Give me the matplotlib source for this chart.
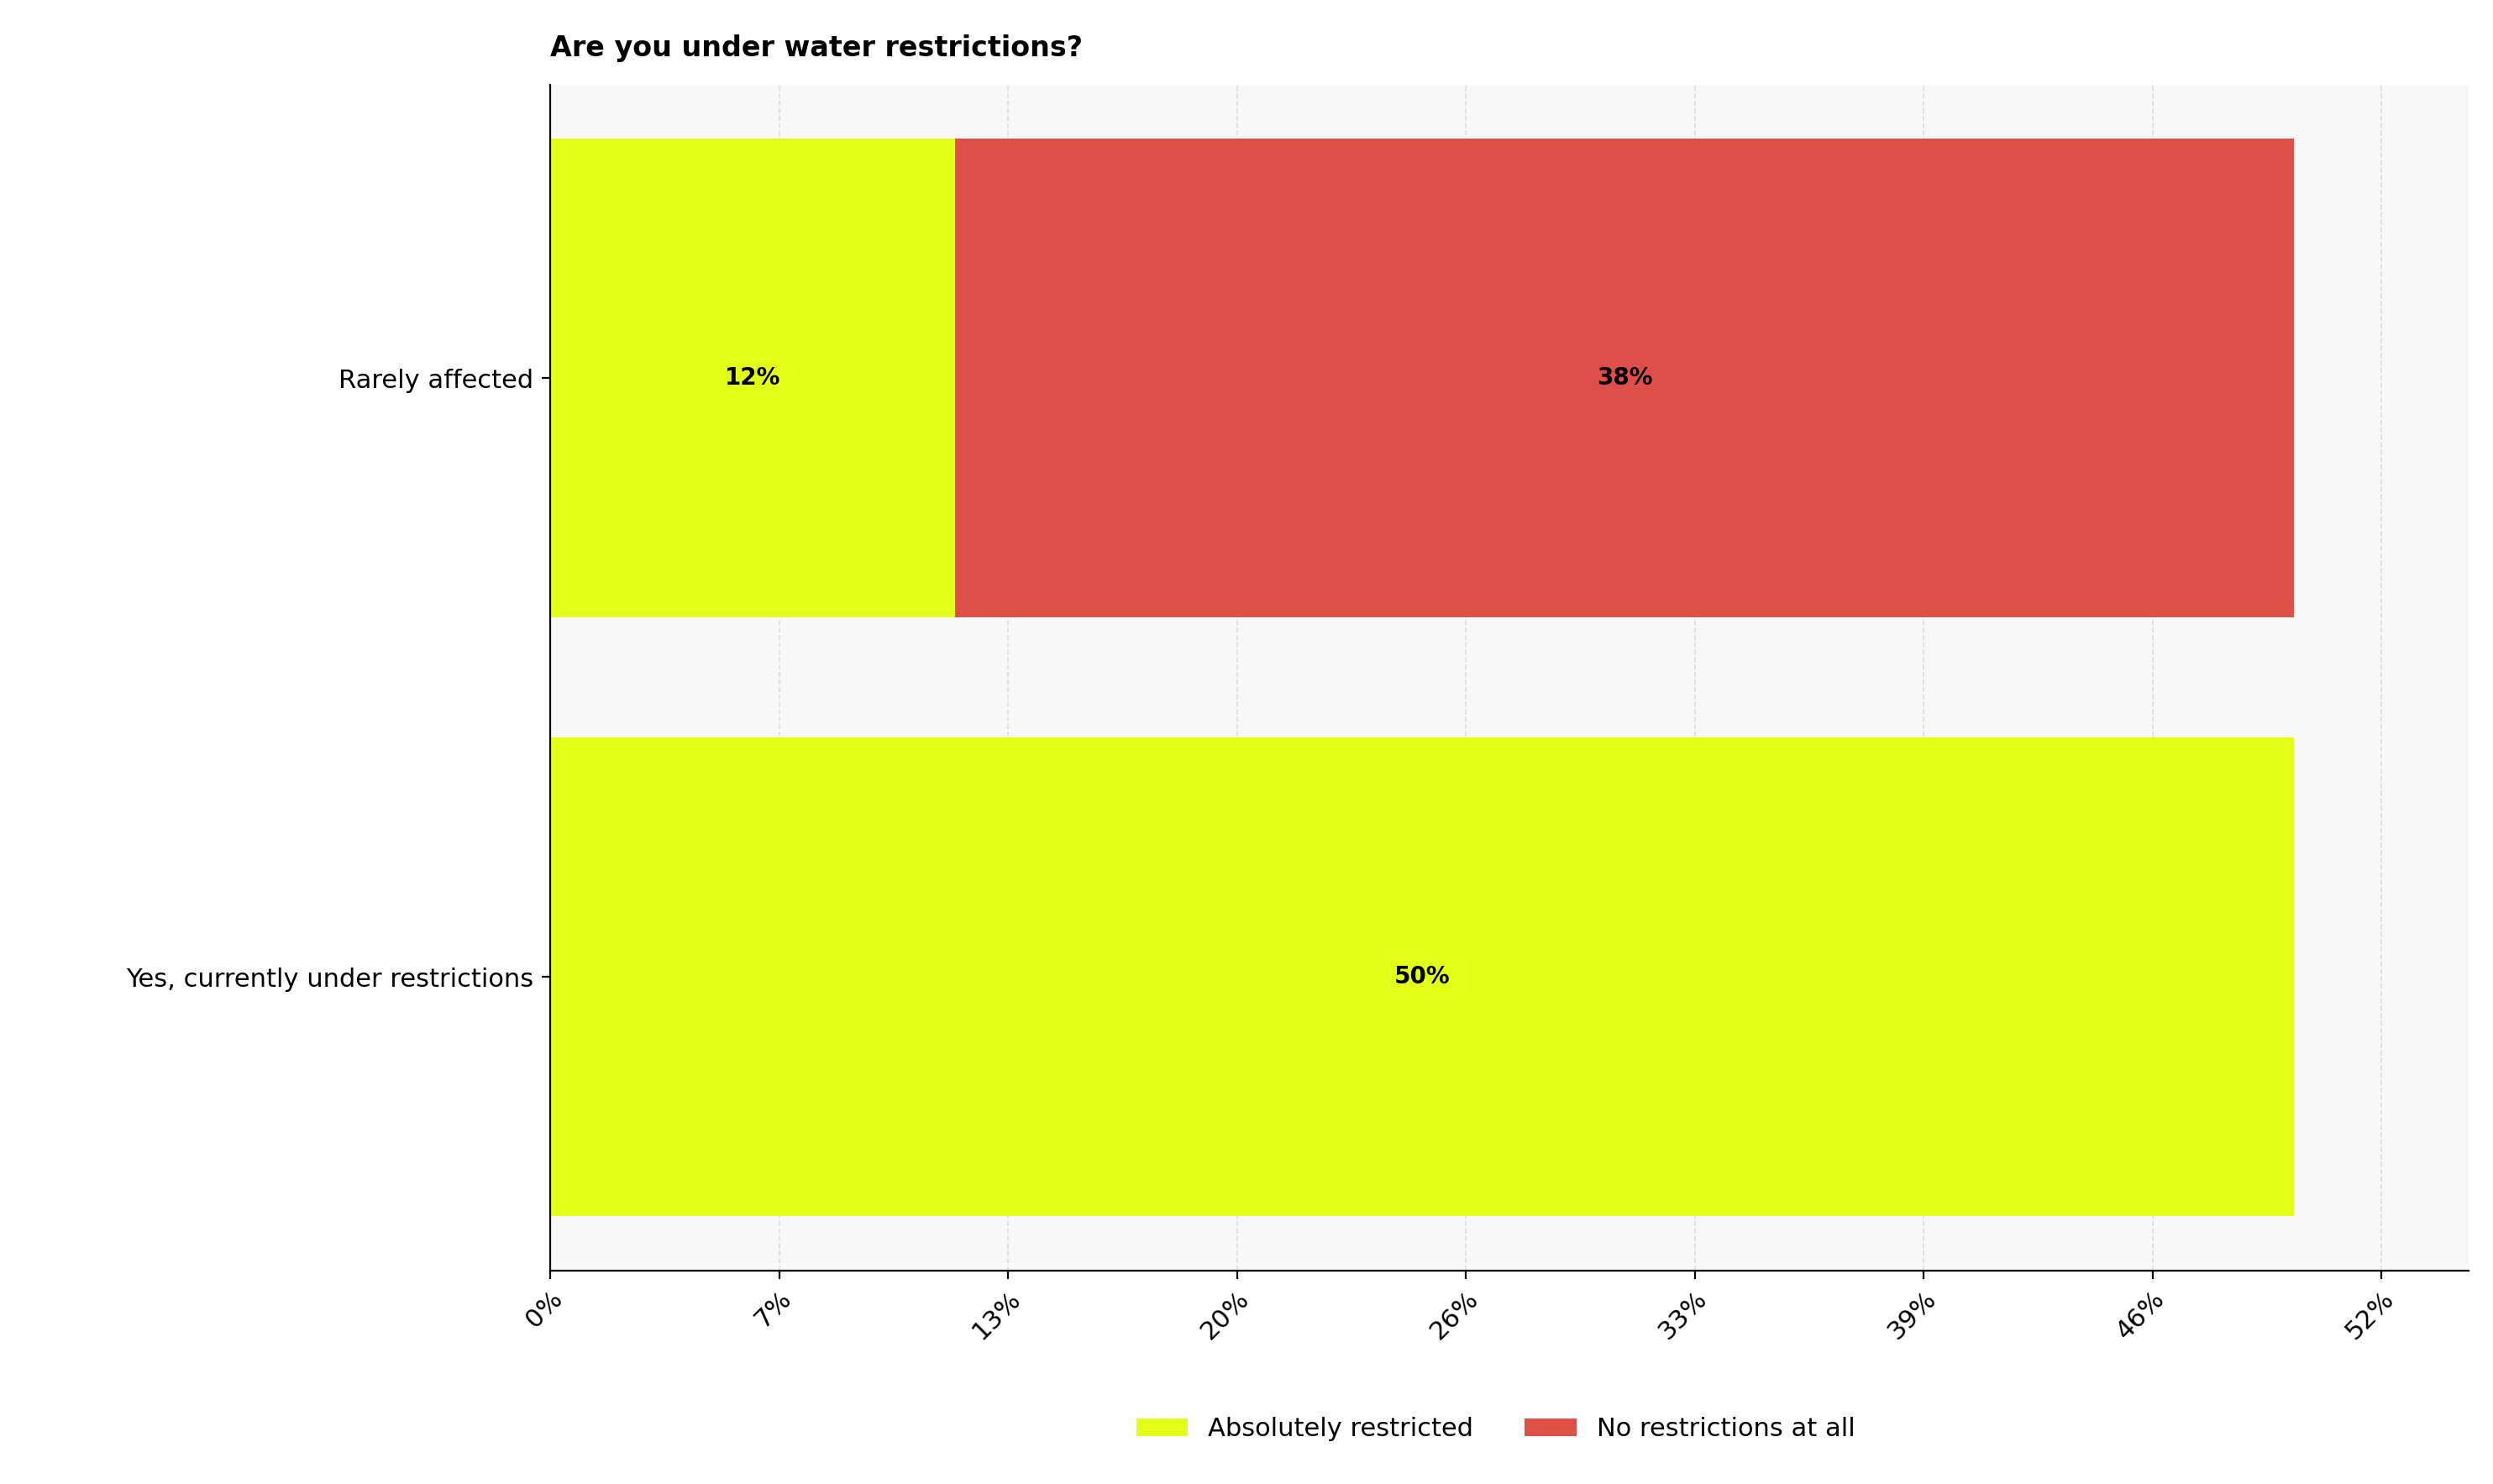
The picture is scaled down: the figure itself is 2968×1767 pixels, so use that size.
import matplotlib
matplotlib.use("Agg")
import matplotlib.pyplot as plt
import numpy as np

categories = ["Yes, currently under restrictions", "Rarely affected"]
series_names = ["Absolutely restricted", "No restrictions at all"]
absolutely = [50.0, 11.6]
no_restr = [0.0, 38.4]
colors = ["#e2ff1a", "#de4f48"]
tick_labels = ["0%", "7%", "13%", "20%", "26%", "33%", "39%", "46%", "52%"]

fig = plt.figure(figsize=(14.84, 8.835), dpi=200)
ax = fig.add_axes([0.2207, 0.144, 0.7695, 0.799])
ax.set_facecolor("#f8f8f8")
y = np.arange(len(categories))
left = np.zeros(len(categories))
for vals, name, c in zip([absolutely, no_restr], series_names, colors):
    bars = ax.barh(y, vals, left=left, height=0.8, color=c, label=name, zorder=2)
    for b, v in zip(bars, vals):
        if v > 0:
            ax.text(b.get_x() + b.get_width() / 2, b.get_y() + b.get_height() / 2,
                    f"{v:.0f}%", ha="center", va="center", fontsize=10, fontweight="bold", zorder=3)
    left = left + np.array(vals)

ax.set_yticks(y)
ax.set_yticklabels(categories, fontsize=11)
ax.set_xlim(0, 55)
ax.set_xticks(np.linspace(0, 52.5, 9))
ax.set_xticklabels(tick_labels, rotation=45, ha="right", fontsize=11, rotation_mode="anchor")
ax.grid(axis="x", linestyle="--", color="#dddddd", linewidth=0.6, zorder=0)
ax.spines["top"].set_visible(False)
ax.spines["right"].set_visible(False)
ax.set_title("Are you under water restrictions?", loc="left", fontsize=12, fontweight="bold", pad=12)
fig.legend(loc="center", bbox_to_anchor=(0.6, 0.037), ncol=2, frameon=False, fontsize=11)
fig.savefig("out.png", dpi=200)
